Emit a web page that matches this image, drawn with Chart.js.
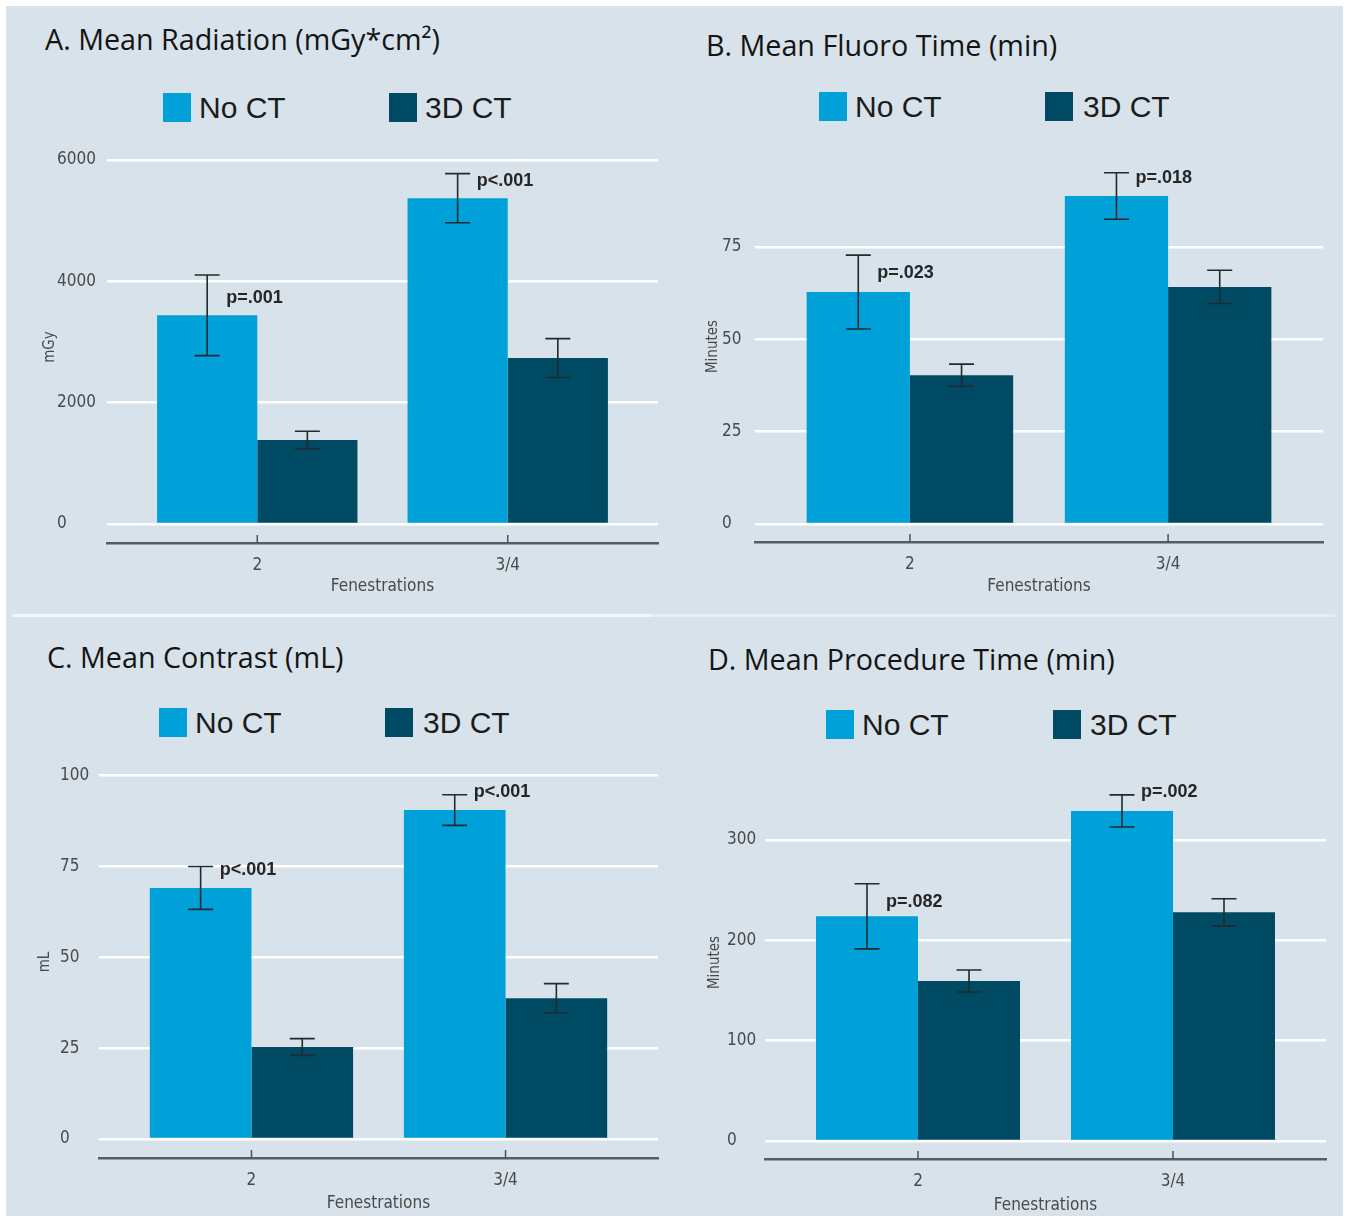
<!DOCTYPE html>
<html>
<head>
<meta charset="utf-8">
<script src="https://cdn.jsdelivr.net/npm/chart.js@4.4.1/dist/chart.umd.min.js"></script>
<style>
  body { margin: 0; background: #fff; }
  #page { position: relative; width: 1349px; height: 1216px; background: #fff; overflow: hidden; }
  #bg { position: absolute; left: 6px; top: 6px; width: 1337px; height: 1210px; background: #d7e2ea; }
  .sep { position: absolute; top: 614px; height: 3px; }
  .title { position: absolute; font-family: 'Open Sans', sans-serif; font-size: 28.7px; color: #141414; white-space: nowrap; line-height: 1; }
  .sq { position: absolute; width: 28px; height: 29px; }
  .lg { position: absolute; font-family: 'Liberation Sans', Arial, sans-serif; font-size: 30px; color: #1b1b1b; white-space: nowrap; line-height: 1; }
  canvas { position: absolute; }
</style>
</head>
<body>
<div id="page">
  <div id="bg"></div>
  <div class="sep" style="left:12px;width:640px;background:#f2f6f9"></div>
  <div class="sep" style="left:652px;width:683px;background:#e6eef3"></div>
</div>
<script>
const categories = ['2', '3/4'];
const seriesNames = ['No CT', '3D CT'];

// A. radiation (mGy*cm2)
const radiationNoCT = [3440, 5370];
const radiationNoCTErr = [665, 405];
const radiation3D = [1385, 2735];
const radiation3DErr = [145, 320];
const radiationP = ['p=.001', 'p<.001'];
const radiationTicks = [0, 2000, 4000, 6000];

// B. fluoro time (min)
const fluoroNoCT = [62.8, 88.8];
const fluoroNoCTErr = [10, 6.3];
const fluoro3D = [40.3, 64.2];
const fluoro3DErr = [3, 4.5];
const fluoroP = ['p=.023', 'p=.018'];
const fluoroTicks = [0, 25, 50, 75];

// C. contrast (mL)
const contrastNoCT = [69, 90.4];
const contrastNoCTErr = [5.9, 4.2];
const contrast3D = [25.3, 38.7];
const contrast3DErr = [2.3, 4];
const contrastP = ['p<.001', 'p<.001'];
const contrastTicks = [0, 25, 50, 75, 100];

// D. procedure time (min)
const procNoCT = [224, 329];
const procNoCTErr = [32.5, 16];
const proc3D = [159.5, 228];
const proc3DErr = [11, 13.5];
const procP = ['p=.082', 'p=.002'];
const procTicks = [0, 100, 200, 300];

const LIGHT = '#00a0d8';
const DARK = '#004b63';
const TICK_FONT = "'Liberation Sans Narrow', 'DejaVu Sans Condensed', 'Liberation Sans', sans-serif";

// labelL = left edge of the y tick labels, yTitleX = centre of the rotated y title
const panels = [
  { title: 'A. Mean Radiation (mGy*cm²)', titleAt: [45, 40], legend: [[163, 93, 199], [389, 93, 425]],
    box: { x: 6, y: 141, w: 674, h: 471 }, area: { l: 107, r: 658, t: 151, b: 543 }, labelL: 57,
    yMin: -313, yMax: 6148, ticks: radiationTicks, yTitle: 'mGy', yTitleX: 50, xTitleY: 584,
    noCT: radiationNoCT, noCTErr: radiationNoCTErr, ct: radiation3D, ctErr: radiation3DErr, p: radiationP, pDy: [23, 7] },
  { title: 'B. Mean Fluoro Time (min)', titleAt: [706, 46], legend: [[819, 92, 855], [1045, 92, 1083]],
    box: { x: 680, y: 141, w: 663, h: 471 }, area: { l: 755, r: 1323, t: 151, b: 542 }, labelL: 722,
    yMin: -4.87, yMax: 101, ticks: fluoroTicks, yTitle: 'Minutes', yTitleX: 713, xTitleY: 584,
    noCT: fluoroNoCT, noCTErr: fluoroNoCTErr, ct: fluoro3D, ctErr: fluoro3DErr, p: fluoroP, pDy: [18, 5] },
  { title: 'C. Mean Contrast (mL)', titleAt: [47, 658], legend: [[159, 708, 195], [385, 708, 423]],
    box: { x: 6, y: 756, w: 674, h: 460 }, area: { l: 99, r: 658, t: 766, b: 1158 }, labelL: 60,
    yMin: -5.2, yMax: 102.5, ticks: contrastTicks, yTitle: 'mL', yTitleX: 45, xTitleY: 1201,
    noCT: contrastNoCT, noCTErr: contrastNoCTErr, ct: contrast3D, ctErr: contrast3DErr, p: contrastP, pDy: [4, -3] },
  { title: 'D. Mean Procedure Time (min)', titleAt: [708, 660], legend: [[826, 710, 862], [1053, 710, 1090]],
    box: { x: 680, y: 756, w: 663, h: 460 }, area: { l: 765, r: 1326, t: 766, b: 1159 }, labelL: 727,
    yMin: -17.9, yMax: 373.8, ticks: procTicks, yTitle: 'Minutes', yTitleX: 715, xTitleY: 1203,
    noCT: procNoCT, noCTErr: procNoCTErr, ct: proc3D, ctErr: proc3DErr, p: procP, pDy: [18, -3] }
];

// error bars, p-value labels and the little upward ticks on the x axis
const extras = {
  id: 'extras',
  afterDatasetsDraw(chart, args, opts) {
    const { ctx, scales: { x, y } } = chart;
    ctx.save();
    ctx.strokeStyle = '#1f2b31';
    ctx.lineWidth = 1.6;
    chart.data.datasets.forEach((ds, di) => {
      chart.getDatasetMeta(di).data.forEach((bar, j) => {
        const v = ds.data[j].y;
        const top = y.getPixelForValue(v + ds.err[j]);
        const bot = y.getPixelForValue(v - ds.err[j]);
        ctx.beginPath();
        ctx.moveTo(bar.x, top); ctx.lineTo(bar.x, bot);
        ctx.moveTo(bar.x - 12.5, top); ctx.lineTo(bar.x + 12.5, top);
        ctx.moveTo(bar.x - 12.5, bot); ctx.lineTo(bar.x + 12.5, bot);
        ctx.stroke();
      });
    });
    const first = chart.data.datasets[0];
    ctx.fillStyle = '#262626';
    ctx.font = "bold 18px 'Liberation Sans', Arial, sans-serif";
    ctx.textBaseline = 'middle';
    ctx.textAlign = 'left';
    chart.getDatasetMeta(0).data.forEach((bar, j) => {
      const top = y.getPixelForValue(first.data[j].y + first.err[j]);
      ctx.fillText(opts.labels[j], bar.x + 19, top + opts.dy[j]);
    });
    ctx.strokeStyle = '#4a5257';
    ctx.lineWidth = 1.5;
    categories.forEach((c, i) => {
      const px = x.getPixelForValue(i + 1);
      ctx.beginPath();
      ctx.moveTo(px, chart.chartArea.bottom - 8);
      ctx.lineTo(px, chart.chartArea.bottom);
      ctx.stroke();
    });
    ctx.restore();
  }
};

const page = document.getElementById('page');

panels.forEach(p => {
  const t = document.createElement('div');
  t.className = 'title';
  t.textContent = p.title;
  t.style.left = p.titleAt[0] + 'px';
  t.style.top = (p.titleAt[1] - 15) + 'px';
  page.appendChild(t);

  p.legend.forEach((l, i) => {
    const sq = document.createElement('div');
    sq.className = 'sq';
    sq.style.left = l[0] + 'px';
    sq.style.top = l[1] + 'px';
    sq.style.background = i === 0 ? LIGHT : DARK;
    page.appendChild(sq);
    const tx = document.createElement('div');
    tx.className = 'lg';
    tx.textContent = seriesNames[i];
    tx.style.left = l[2] + 'px';
    tx.style.top = l[1] + 'px';
    page.appendChild(tx);
  });

  const canvas = document.createElement('canvas');
  canvas.width = p.box.w;
  canvas.height = p.box.h;
  canvas.style.left = p.box.x + 'px';
  canvas.style.top = p.box.y + 'px';
  page.appendChild(canvas);

  const padLeft = p.labelL - p.box.x;
  const tickFont = { family: TICK_FONT, size: 17, lineHeight: 1.1 };
  new Chart(canvas, {
    type: 'bar',
    data: {
      datasets: [
        { label: seriesNames[0], data: p.noCT.map((v, i) => ({ x: i + 1, y: v })), backgroundColor: LIGHT, err: p.noCTErr },
        { label: seriesNames[1], data: p.ct.map((v, i) => ({ x: i + 1, y: v })), backgroundColor: DARK, err: p.ctErr }
      ]
    },
    options: {
      responsive: false,
      animation: false,
      events: [],
      layout: {
        autoPadding: false,
        padding: { top: p.area.t - p.box.y, right: p.box.x + p.box.w - p.area.r, left: padLeft, bottom: 0 }
      },
      datasets: { bar: { categoryPercentage: 0.8, barPercentage: 1.0 } },
      plugins: {
        legend: { display: false },
        tooltip: { enabled: false },
        extras: { labels: p.p, dy: p.pDy }
      },
      scales: {
        x: {
          type: 'linear', min: 0.4, max: 2.6, offset: false,
          afterBuildTicks: s => { s.ticks = categories.map((c, i) => ({ value: i + 1 })); },
          afterFit: s => { s.height = p.box.y + p.box.h - p.area.b; },
          ticks: { callback: v => categories[v - 1], padding: 13, font: tickFont, color: '#4a4a4a', maxRotation: 0 },
          grid: { display: false, drawTicks: false },
          border: { display: true, color: '#555d62', width: 2.5 },
          title: { display: true, text: 'Fenestrations', font: { family: TICK_FONT, size: 17 }, color: '#4a4a4a',
                   padding: { top: 0, bottom: p.box.y + p.box.h - p.xTitleY - 13.2 } }
        },
        y: {
          min: p.yMin, max: p.yMax,
          afterBuildTicks: s => { s.ticks = p.ticks.map(v => ({ value: v })); },
          afterFit: s => { s.width = p.area.l - p.labelL; },
          ticks: { padding: 0, font: tickFont, color: '#4a4a4a', crossAlign: 'far', callback: v => String(v) },
          grid: { color: '#ffffff', lineWidth: 2.5, drawTicks: false },
          border: { display: false },
          title: { display: true, text: p.yTitle, font: { family: TICK_FONT, size: 15 }, color: '#4a4a4a',
                   padding: { top: p.yTitleX - p.labelL - 9, bottom: 0 } }
        }
      }
    },
    plugins: [extras]
  });
});
</script>
</body>
</html>
